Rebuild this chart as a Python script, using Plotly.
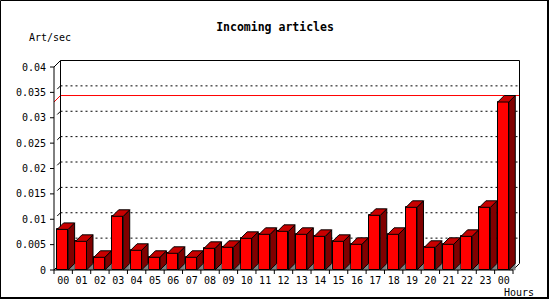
import plotly.graph_objects as go

# ---- data ----
hour_labels = ["00", "01", "02", "03", "04", "05", "06", "07", "08", "09", "10", "11",
               "12", "13", "14", "15", "16", "17", "18", "19", "20", "21", "22", "23", "00"]
art_per_sec = [0.0080, 0.00565, 0.0025, 0.01058, 0.00388, 0.0025, 0.00329, 0.0025,
               0.00427, 0.00447, 0.00624, 0.00703, 0.00762, 0.00703, 0.00663, 0.00565,
               0.00506, 0.01077, 0.00703, 0.01235, 0.00447, 0.00506, 0.00663, 0.01235,
               0.0331]
y_ticks = [0, 0.005, 0.01, 0.015, 0.02, 0.025, 0.03, 0.035, 0.04]
y_tick_text = ["0", "0.005", "0.01", "0.015", "0.02", "0.025", "0.03", "0.035", "0.04"]
title_text = "Incoming articles"
y_title = "Art/sec"
x_title = "Hours"

# ---- geometry (pixel layout) ----
W, H = 550, 300
PL, PR, PT, PB = 49, 523, 60, 275          # plot area in pixels
X0PX, KX = 54, 18.36                        # px of x=-0.5, px per category
Y0PX, KY = 270, 5075.0                      # px of y=0, px per unit
x_range = [-0.5 - (X0PX - PL) / KX, -0.5 + (PR - X0PX) / KX]
y_range = [-(PB - Y0PX) / KY, (Y0PX - PT) / KY]
DX = 6.5 / KX
DY = 6.5 / KY
n = len(art_per_sec)
xl_edge, xr_edge = -0.5, n - 0.5
y_top = y_ticks[-1]
vmax = max(art_per_sec)

BAR_OFF, BAR_W = -0.33, 0.6
FONT = "DejaVu Sans Mono"


def px2paper_x(px):
    return (px - PL) / (PR - PL)


def px2paper_y(py):
    return (PB - py) / (PB - PT)


fig = go.Figure()

# shadows, side faces, top faces as filled polygons
sx, sy, dxs, dys, tx, ty = [], [], [], [], [], []
for i, v in enumerate(art_per_sec):
    xl = i + BAR_OFF
    xr = xl + BAR_W
    sx += [xr, xr + DX, xr + DX, xr, None]
    sy += [0, DY, 0, 0, None]
    dxs += [xr, xr, xr + DX, xr + DX, xr, None]
    dys += [0, v, v + DY, DY, 0, None]
    tx += [xl, xl + DX, xr + DX, xr, xl, None]
    ty += [v, v + DY, v + DY, v, v, None]

fig.add_trace(go.Scatter(x=sx, y=sy, mode="lines", fill="toself", fillcolor="#808080",
                         line=dict(color="#808080", width=0.5), hoverinfo="skip", showlegend=False))
fig.add_trace(go.Bar(x=list(range(n)), y=art_per_sec, width=BAR_W, offset=BAR_OFF,
                     marker=dict(color="#ff0000", line=dict(color="black", width=1)),
                     showlegend=False))
fig.add_trace(go.Scatter(x=dxs, y=dys, mode="lines", fill="toself", fillcolor="#800000",
                         line=dict(color="black", width=1), hoverinfo="skip", showlegend=False))
fig.add_trace(go.Scatter(x=tx, y=ty, mode="lines", fill="toself", fillcolor="#c80000",
                         line=dict(color="black", width=1), hoverinfo="skip", showlegend=False))

shapes = []
# dotted grid on back plane
for v in y_ticks[1:-1]:
    shapes.append(dict(type="line", xref="x", yref="y", layer="below",
                       x0=xl_edge + DX, x1=xr_edge + DX, y0=v + DY, y1=v + DY,
                       line=dict(color="black", width=1, dash="2px,3px")))
# max line (red)
shapes.append(dict(type="path", xref="x", yref="y", layer="below",
                   path=f"M {xl_edge},{vmax} L {xl_edge + DX},{vmax + DY} L {xr_edge + DX},{vmax + DY}",
                   line=dict(color="#ff0000", width=1)))
# back plane edges (left, top, right)
shapes.append(dict(type="path", xref="x", yref="y", layer="below",
                   path=(f"M {xl_edge + DX},{DY} L {xl_edge + DX},{y_top + DY} "
                         f"L {xr_edge + DX},{y_top + DY} L {xr_edge + DX},{DY} L {xr_edge},0"),
                   line=dict(color="black", width=1)))
# front y axis and top-left diagonal
shapes.append(dict(type="path", xref="x", yref="y", layer="below",
                   path=f"M {xl_edge},0 L {xl_edge},{y_top} L {xl_edge + DX},{y_top + DY}",
                   line=dict(color="black", width=1)))
# left floor diagonal
shapes.append(dict(type="line", xref="x", yref="y", layer="below",
                   x0=xl_edge, y0=0, x1=xl_edge + DX, y1=DY,
                   line=dict(color="black", width=1)))
# x axis line
shapes.append(dict(type="line", xref="x", yref="y", layer="above",
                   x0=xl_edge, y0=0, x1=xr_edge, y1=0, line=dict(color="black", width=1)))
# y tick marks + short 3D tick diagonals
for v in y_ticks:
    shapes.append(dict(type="line", xref="x", yref="y", layer="above",
                       x0=xl_edge - 4 / KX, x1=xl_edge, y0=v, y1=v,
                       line=dict(color="black", width=1)))
for v in y_ticks[1:-1]:
    shapes.append(dict(type="line", xref="x", yref="y", layer="below",
                       x0=xl_edge + DX * 0.5, y0=v + DY * 0.5, x1=xl_edge + DX, y1=v + DY,
                       line=dict(color="black", width=1)))
# x tick marks at category boundaries
for k in range(n + 1):
    shapes.append(dict(type="line", xref="x", yref="y", layer="above",
                       x0=k - 0.5, x1=k - 0.5, y0=0, y1=-4 / KY,
                       line=dict(color="black", width=1)))
# figure frame
for (x0, y0, x1, y1, w) in [(0.5, 0.5, 548.5, 0.5, 1), (0.5, 0.5, 0.5, 299, 1),
                            (548, 0, 548, 299, 2), (0, 298, 549, 298, 2)]:
    shapes.append(dict(type="line", xref="paper", yref="paper",
                       x0=px2paper_x(x0), x1=px2paper_x(x1), y0=px2paper_y(y0), y1=px2paper_y(y1),
                       line=dict(color="black", width=w)))

annotations = [
    dict(text=y_title, xref="paper", yref="paper", x=px2paper_x(50), y=px2paper_y(37),
         xanchor="center", yanchor="middle", showarrow=False,
         font=dict(family=FONT, size=10, color="black")),
    dict(text=x_title, xref="paper", yref="paper", x=px2paper_x(519), y=px2paper_y(292.5),
         xanchor="center", yanchor="middle", showarrow=False,
         font=dict(family=FONT, size=10, color="black")),
]

fig.update_layout(
    width=W, height=H,
    margin=dict(l=PL, r=W - PR, t=PT, b=H - PB, pad=0),
    paper_bgcolor="white", plot_bgcolor="white",
    title=dict(text=f"<b>{title_text}</b>", x=0.5, xanchor="center", y=1 - 27 / H, yanchor="middle",
               font=dict(family=FONT, size=11.5, color="black")),
    xaxis=dict(range=x_range, showgrid=False, zeroline=False, showline=False, ticks="",
               tickvals=list(range(n)), ticktext=hour_labels, ticklabelstandoff=-2,
               tickfont=dict(family=FONT, size=10, color="black"), fixedrange=True),
    yaxis=dict(range=y_range, showgrid=False, zeroline=False, showline=False, ticks="",
               tickvals=y_ticks, ticktext=y_tick_text, ticklabelstandoff=2,
               tickfont=dict(family=FONT, size=10, color="black"), fixedrange=True),
    shapes=shapes, annotations=annotations, bargap=0,
    showlegend=False,
)

fig.write_html("out.html")
